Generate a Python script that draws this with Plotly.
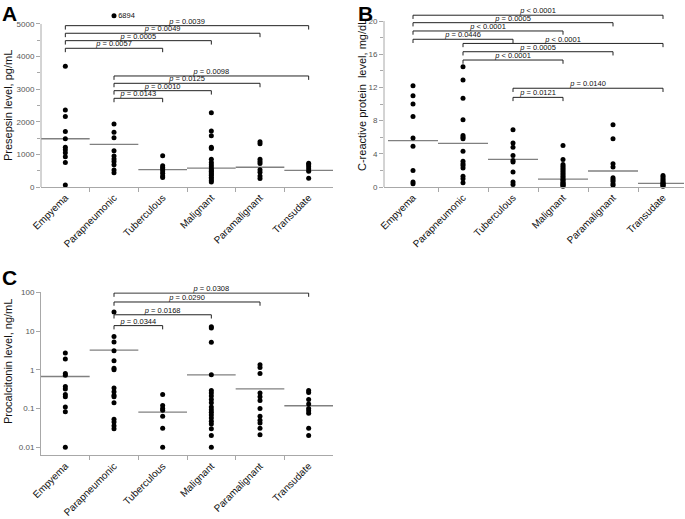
import plotly.graph_objects as go

W, H = 685, 519
FONT = "Liberation Sans, Arial, sans-serif"

categories = ["Empyema", "Parapneumonic", "Tuberculous", "Malignant", "Paramalignant", "Transudate"]

# ---- Panel A: presepsin (pg/mL), one list per category ----
presepsin_empyema = [3700, 2360, 2160, 1700, 1480, 1220, 1140, 1050, 930, 750, 60]
presepsin_parapneumonic = [6894, 1930, 1680, 1510, 1110, 950, 860, 780, 680, 520, 440]
presepsin_tuberculous = [960, 650, 600, 550, 490, 420, 340, 290]
presepsin_malignant = [2280, 1720, 1570, 1220, 1180, 850, 750, 680, 620, 560, 520, 480, 440,
                       400, 360, 300, 250, 200, 150]
presepsin_paramalignant = [1390, 1330, 850, 780, 720, 530, 450, 340, 260]
presepsin_transudate = [730, 680, 620, 550, 480, 270]
presepsin_median = [1480, 1310, 530, 580, 605, 510]
presepsin_axis_max = 5000
presepsin_clip_level = 5250
a_from = [0, 0, 0, 0, 1, 1, 1, 1]
a_to = [5, 4, 3, 2, 5, 4, 3, 2]
a_level = [4948, 4715, 4488, 4254, 3405, 3180, 2954, 2720]
a_p = ["= 0.0039", "= 0.0049", "= 0.0005", "= 0.0057", "= 0.0098", "= 0.0125", "= 0.0010", "= 0.0143"]

# ---- Panel B: CRP (mg/dL) ----
crp_empyema = [12.2, 11.0, 10.0, 8.5, 5.9, 4.9, 2.0, 0.6, 0.4]
crp_parapneumonic = [14.5, 12.9, 10.7, 8.1, 6.2, 6.0, 5.8, 4.3, 3.1, 2.8, 2.6, 2.3, 1.3, 1.0, 0.5]
crp_tuberculous = [6.9, 5.3, 4.8, 3.8, 3.2, 3.0, 1.8, 0.6, 0.3]
crp_malignant = [5.0, 3.3, 2.7, 2.5, 2.3, 2.1, 1.9, 1.7, 1.5, 1.3, 1.1, 0.9, 0.8, 0.6, 0.5, 0.4, 0.3, 0.2, 0.1]
crp_paramalignant = [7.5, 5.8, 2.8, 2.4, 1.1, 0.9, 0.7, 0.4, 0.2]
crp_transudate = [1.4, 1.2, 1.0, 0.8, 0.6, 0.5, 0.4, 0.3, 0.2, 0.1]
crp_median = [5.58, 5.26, 3.33, 0.95, 1.93, 0.44]
crp_axis_max = 20
b_from = [0, 0, 0, 0, 1, 1, 1, 2, 2]
b_to = [5, 4, 3, 2, 5, 4, 3, 5, 3]
b_level = [20.7, 19.8, 18.8, 17.8, 17.3, 16.3, 15.3, 11.9, 10.8]
b_p = ["< 0.0001", "= 0.0005", "< 0.0001", "= 0.0446", "< 0.0001", "= 0.0005", "< 0.0001", "= 0.0140", "= 0.0121"]

# ---- Panel C: procalcitonin (ng/mL) ----
pct_empyema = [2.7, 1.9, 0.8, 0.72, 0.37, 0.32, 0.23, 0.2, 0.11, 0.083, 0.01]
pct_parapneumonic = [31, 7.2, 5.2, 3.1, 1.7, 1.1, 1.0, 0.34, 0.27, 0.22, 0.2, 0.14, 0.053, 0.045, 0.036, 0.03]
pct_tuberculous = [0.23, 0.12, 0.1, 0.09, 0.063, 0.031, 0.01]
pct_malignant = [13, 12, 5.1, 0.74, 0.29, 0.25, 0.21, 0.17, 0.14, 0.11, 0.093, 0.08, 0.068, 0.057,
                 0.047, 0.04, 0.03, 0.02, 0.01]
pct_paramalignant = [1.35, 1.15, 0.8, 0.25, 0.2, 0.16, 0.1, 0.063, 0.05, 0.042, 0.031, 0.021]
pct_transudate = [0.29, 0.26, 0.17, 0.13, 0.1, 0.088, 0.075, 0.031, 0.02]
pct_median = [0.67, 3.2, 0.081, 0.74, 0.32, 0.118]
c_from = [1, 1, 1, 1]
c_to = [5, 4, 3, 2]
c_level = [95.5, 56.2, 26.3, 13.8]
c_p = ["= 0.0308", "= 0.0290", "= 0.0168", "= 0.0344"]

presepsin = [presepsin_empyema, presepsin_parapneumonic, presepsin_tuberculous,
             presepsin_malignant, presepsin_paramalignant, presepsin_transudate]
crp = [crp_empyema, crp_parapneumonic, crp_tuberculous, crp_malignant, crp_paramalignant, crp_transudate]
pct = [pct_empyema, pct_parapneumonic, pct_tuberculous, pct_malignant, pct_paramalignant, pct_transudate]

fig = go.Figure()

AX_COL = "#a8a8a8"
MED_COL = "#808080"


def add_dots(groups, xa, ya, clip_max=None, clip_level=None):
    xs, ys, tx, ty, tt = [], [], [], [], []
    for i, vals in enumerate(groups):
        for v in vals:
            if clip_max is not None and v > clip_max:
                xs.append(i)
                ys.append(clip_level)
                tx.append(i)
                ty.append(clip_level)
                tt.append("\u00a0\u00a0" + str(v))
            else:
                xs.append(i)
                ys.append(v)
    fig.add_trace(go.Scatter(x=xs, y=ys, mode="markers", xaxis=xa, yaxis=ya,
                             marker=dict(color="black", size=5), showlegend=False,
                             hoverinfo="skip", cliponaxis=False))
    if tt:
        fig.add_trace(go.Scatter(x=tx, y=ty, mode="text", text=tt, textposition="middle right",
                                 textfont=dict(size=7.5, color="#111", family=FONT),
                                 xaxis=xa, yaxis=ya, showlegend=False, hoverinfo="skip",
                                 cliponaxis=False))


def add_medians(meds, xa, ya, xr):
    mx, my = [], []
    for i, m in enumerate(meds):
        mx += [max(i - 0.5, xr[0]), min(i + 0.5, xr[1]), None]
        my += [m, m, None]
    fig.add_trace(go.Scatter(x=mx, y=my, mode="lines", xaxis=xa, yaxis=ya,
                             line=dict(color=MED_COL, width=1.3), showlegend=False,
                             hoverinfo="skip"))


def add_brackets(frm, to, lvl, ptxt, xa, ya, drop, log=False):
    bx, by, lx = [], [], []
    for i, j, l in zip(frm, to, lvl):
        low = l * drop if log else l - drop
        bx += [i, i, j, j, None]
        by += [low, l, l, low, None]
        lx.append((i + j) / 2)
    fig.add_trace(go.Scatter(x=bx, y=by, mode="lines", xaxis=xa, yaxis=ya,
                             line=dict(color="#222", width=1), showlegend=False,
                             hoverinfo="skip", cliponaxis=False))
    fig.add_trace(go.Scatter(x=lx, y=lvl, mode="text", xaxis=xa, yaxis=ya,
                             text=["<i>p</i> " + t for t in ptxt], textposition="top center",
                             textfont=dict(size=7.5, color="#111", family=FONT),
                             showlegend=False, hoverinfo="skip", cliponaxis=False))


xr_ac = [-0.5, 5.5]
xr_b = [-0.58, 5.42]

add_medians(presepsin_median, "x", "y", xr_ac)
add_dots(presepsin, "x", "y", presepsin_axis_max, presepsin_clip_level)
add_brackets(a_from, a_to, a_level, a_p, "x", "y", 120)

add_medians(crp_median, "x2", "y2", xr_b)
add_dots(crp, "x2", "y2")
add_brackets(b_from, b_to, b_level, b_p, "x2", "y2", 0.45)

add_medians(pct_median, "x3", "y3", xr_ac)
add_dots(pct, "x3", "y3")
add_brackets(c_from, c_to, c_level, c_p, "x3", "y3", 0.8, log=True)


def xdom(a, b):
    return [a / W, b / W]


def ydom(bottom_px, top_px):
    return [1 - bottom_px / H, 1 - top_px / H]


def xaxis_cfg(domain, rng, anchor):
    return dict(domain=domain, range=rng, anchor=anchor, tickmode="array",
                tickvals=list(range(len(categories))), ticktext=categories, tickangle=-45,
                ticks="", showline=True, linecolor=AX_COL, linewidth=1, showgrid=False,
                zeroline=False, automargin=False,
                tickfont=dict(size=10, color="#111", family=FONT),
                minor=dict(tickmode="array", tickvals=[k + 0.5 for k in range(len(categories) - 1)],
                           ticks="outside", ticklen=4, tickcolor=AX_COL, showgrid=False))


def yaxis_cfg(domain, rng, anchor, tickvals, ticktext, minorvals, showline=False, typ="linear"):
    return dict(domain=domain, range=rng, anchor=anchor, type=typ, tickmode="array",
                tickvals=tickvals, ticktext=ticktext, ticks="outside", ticklen=4,
                tickcolor=AX_COL, showline=showline, linecolor=AX_COL, linewidth=1,
                showgrid=False, zeroline=False, automargin=False,
                tickfont=dict(size=8, color="#555", family=FONT),
                minor=dict(tickmode="array", tickvals=minorvals, ticks="outside" if minorvals else "",
                           ticklen=3, tickcolor=AX_COL, showgrid=False))


a_ticks = list(range(0, 5001, 1000))
b_ticks = list(range(0, 21, 4))
c_ticks = [0.01, 0.1, 1, 10, 100]

fig.update_layout(
    width=W, height=H, margin=dict(l=0, r=0, t=0, b=0),
    paper_bgcolor="white", plot_bgcolor="white", showlegend=False,
    font=dict(family=FONT),
    xaxis=xaxis_cfg(xdom(41, 333), xr_ac, "y"),
    yaxis=yaxis_cfg(ydom(187, 4.4), [0, 5600], "x", a_ticks, [str(v) for v in a_ticks],
                    list(range(500, 5000, 1000))),
    xaxis2=xaxis_cfg(xdom(384, 684), xr_b, "y2"),
    yaxis2=yaxis_cfg(ydom(187, 1.1), [0, 22.4], "x2", b_ticks, [str(v) for v in b_ticks],
                     list(range(2, 20, 4))),
    xaxis3=xaxis_cfg(xdom(41, 333), xr_ac, "y3"),
    yaxis3=yaxis_cfg(ydom(455.4, 292.3), [-2.21, 2.0], "x3", c_ticks, ["0.01", "0.1", "1", "10", "100"],
                     [], showline=True, typ="log"),
)

# y-axis lines of A and B end at the top tick
fig.add_shape(type="line", xref="x domain", yref="y", x0=0, x1=0, y0=0, y1=presepsin_axis_max,
              line=dict(color=AX_COL, width=1))
fig.add_shape(type="line", xref="x2 domain", yref="y2", x0=0, x1=0, y0=0, y1=crp_axis_max,
              line=dict(color=AX_COL, width=1))

# axis titles and panel letters
titles = [("Presepsin level, pg/mL", 8, 106), ("C-reactive protein&nbsp; level, mg/dL", 362, 95),
          ("Procalcitonin level, ng/mL", 8, 362)]
for txt, x, y in titles:
    fig.add_annotation(text=txt, x=x / W, y=1 - y / H, xref="paper", yref="paper",
                       textangle=-90, showarrow=False, xanchor="center", yanchor="middle",
                       font=dict(size=11, color="#111", family=FONT))

for letter, x, y in [("A", 0, 0), ("B", 356, 0), ("C", 0, 264)]:
    fig.add_annotation(text="<b>" + letter + "</b>", x=x / W, y=1 - y / H, xref="paper", yref="paper",
                       showarrow=False, xanchor="left", yanchor="top",
                       font=dict(size=21, color="black", family=FONT))

fig.write_html("out.html", config={"displayModeBar": False},
               post_script="document.body.style.margin='0';document.body.style.overflow='hidden';")
